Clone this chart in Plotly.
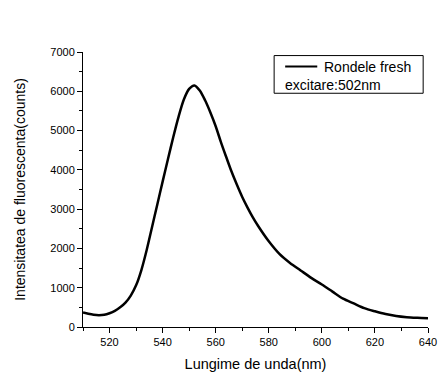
import plotly.graph_objects as go

wavelength = [510, 512, 514, 516, 518, 520, 522, 524, 526, 528, 530, 532, 534, 536, 538, 540, 542, 544,
              546, 548, 550, 552, 554, 556, 558, 560, 562, 564, 566, 568, 570, 572, 574, 576, 580,
              584, 588, 592, 596, 600, 604, 608, 612, 616, 620, 624, 628, 632, 636, 640]
counts = [370, 335, 310, 300, 310, 350, 410, 500, 620, 800, 1060, 1450, 1960, 2540, 3120, 3700, 4270, 4830,
          5350, 5790, 6060, 6150, 6020, 5770, 5460, 5110, 4700, 4320, 3950, 3620, 3310, 3040, 2790, 2570, 2180,
          1860, 1630, 1440, 1250, 1080, 900, 720, 600, 480, 400, 330, 280, 250, 235, 225]

series_name = "Rondele fresh"
note_text = "excitare:502nm"
x_title = "Lungime de unda(nm)"
y_title = "Intensitatea de fluorescenta(counts)"

FONT = "Liberation Sans, Arial, sans-serif"

fig = go.Figure()
fig.add_trace(go.Scatter(x=wavelength, y=counts, mode="lines", name=series_name,
                         line=dict(color="black", width=2.5, shape="spline", smoothing=0.8),
                         showlegend=False))

axis_common = dict(showline=True, linecolor="black", linewidth=1, ticks="outside", ticklen=5,
                   tickcolor="black", showgrid=False, zeroline=False,
                   tickfont=dict(family=FONT, size=11, color="black"),
                   minor=dict(ticks="outside", ticklen=3, tickcolor="black"))

fig.update_xaxes(range=[510, 640], dtick=20, tick0=520, minor_dtick=10,
                 title=dict(text=x_title, font=dict(family=FONT, size=14.5, color="black"), standoff=13),
                 **axis_common)
fig.update_yaxes(range=[0, 7000], dtick=1000, minor_dtick=500,
                 title=dict(text=y_title, font=dict(family=FONT, size=14, color="black"), standoff=21),
                 **axis_common)

# legend-like box
fig.add_shape(type="rect", xref="paper", yref="paper", x0=0.554, x1=0.986, y0=0.850, y1=0.987,
              line=dict(color="black", width=1), fillcolor="white")
fig.add_shape(type="line", xref="paper", yref="paper", x0=0.586, x1=0.679, y0=0.947, y1=0.947,
              line=dict(color="black", width=2))
fig.add_annotation(xref="paper", yref="paper", x=0.699, y=0.947, text=series_name, showarrow=False,
                   xanchor="left", yanchor="middle", xshift=-2, font=dict(family=FONT, size=14, color="black"))
fig.add_annotation(xref="paper", yref="paper", x=0.586, y=0.880, text=note_text, showarrow=False,
                   xanchor="left", yanchor="middle", xshift=-2, font=dict(family=FONT, size=14, color="black"))

fig.update_layout(width=438, height=372, margin=dict(l=83, r=10, t=52, b=45, autoexpand=False),
                  plot_bgcolor="white", paper_bgcolor="white", showlegend=False)

fig.write_html("out.html")
